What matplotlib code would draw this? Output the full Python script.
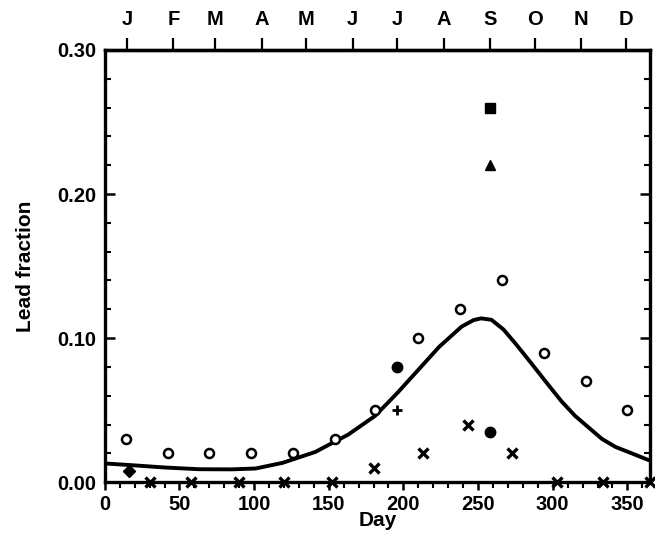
import matplotlib
matplotlib.use("Agg")
import matplotlib.pyplot as plt
from matplotlib.ticker import MultipleLocator

plt.rcParams['font.family'] = ['Liberation Sans', 'DejaVu Sans']
plt.rcParams['font.weight'] = 'bold'

# model curve
curve_day = [0, 18, 40, 63, 85, 101, 119, 141, 163, 181, 196, 210, 224, 239, 247, 252, 259, 267, 275, 283, 291, 299, 306, 315, 324, 333, 342, 353, 365]
curve_val = [0.013, 0.0118, 0.0102, 0.0090, 0.0089, 0.0095, 0.0134, 0.021, 0.033, 0.046, 0.062, 0.078, 0.094, 0.108, 0.1125, 0.1137, 0.1127, 0.106, 0.0963, 0.086, 0.0755, 0.065, 0.0560, 0.046, 0.0380, 0.030, 0.0245, 0.020, 0.015]

# open circles
circ_day = [14, 42, 70, 98, 126, 154, 181, 210, 238, 266, 294, 322, 350]
circ_val = [0.03, 0.02, 0.02, 0.02, 0.02, 0.03, 0.05, 0.10, 0.12, 0.14, 0.09, 0.07, 0.05]

# crosses
x_day = [30, 58, 90, 120, 152, 180, 213, 243, 273, 303, 334, 365]
x_val = [0.0, 0.0, 0.0, 0.0, 0.0, 0.01, 0.02, 0.04, 0.02, 0.0, 0.0, 0.0]

# single symbols
plus_day, plus_val = [196], [0.05]
blob_day, blob_val = [196], [0.08]
diam_day, diam_val = [16], [0.008]
sq_day, sq_val = [258], [0.26]
tri_day, tri_val = [258], [0.22]
dot_day, dot_val = [258], [0.035]

months = ['J', 'F', 'M', 'A', 'M', 'J', 'J', 'A', 'S', 'O', 'N', 'D']
month_mid = [15, 46, 74, 105, 135, 166, 196, 227, 258, 288, 319, 349]

fig = plt.figure(figsize=(6.55, 5.43), dpi=100)
ax = fig.add_axes([0.160, 0.112, 0.832, 0.796])

ax.plot(curve_day, curve_val, color='black', lw=2.8, solid_joinstyle='round')
ax.plot(circ_day, circ_val, 'o', mfc='white', mec='black', mew=1.8, ms=6.5, ls='none')
ax.plot(x_day, x_val, 'x', color='black', mew=2.4, ms=6.5, ls='none', clip_on=False)
ax.plot(plus_day, plus_val, '+', color='black', mew=2, ms=7.5, ls='none')
ax.plot(blob_day, blob_val, 'o', color='black', ms=7.5, ls='none')
ax.plot(diam_day, diam_val, 'D', color='black', ms=6.5, ls='none')
ax.plot(sq_day, sq_val, 's', color='black', ms=7, ls='none')
ax.plot(tri_day, tri_val, '^', color='black', ms=7.5, ls='none')
ax.plot(dot_day, dot_val, 'o', color='black', ms=7.5, ls='none')

ax.set_xlim(0, 365)
ax.set_ylim(0, 0.30)
ax.set_xticks([0, 50, 100, 150, 200, 250, 300, 350])
ax.xaxis.set_minor_locator(MultipleLocator(10))
ax.set_yticks([0.0, 0.1, 0.2, 0.3])
ax.set_yticklabels(['0.00', '0.10', '0.20', '0.30'])
ax.yaxis.set_minor_locator(MultipleLocator(0.02))

for s in ax.spines.values():
    s.set_linewidth(2.4)

ax.tick_params(axis='x', which='major', direction='out', length=6, width=1.8, labelsize=14.5, pad=3)
ax.tick_params(axis='x', which='minor', direction='out', length=4, width=1.5)
ax.tick_params(axis='y', which='major', direction='in', length=7, width=1.8, labelsize=14.5, right=True, pad=6)
ax.tick_params(axis='y', which='minor', direction='in', length=4, width=1.5, right=True)

ax.set_xlabel('Day', fontsize=15, fontweight='bold', labelpad=-2)
ax.set_ylabel('Lead fraction', fontsize=15, fontweight='bold', labelpad=16)

top = ax.secondary_xaxis('top')
top.set_xticks(month_mid)
top.set_xticklabels(months)
top.tick_params(axis='x', direction='out', length=9, width=1.6, labelsize=14.5, pad=6)
top.spines['top'].set_linewidth(2.4)

for lab in ax.get_xticklabels() + ax.get_yticklabels() + top.get_xticklabels():
    lab.set_fontweight('bold')

fig.savefig('out.png', dpi=100)
